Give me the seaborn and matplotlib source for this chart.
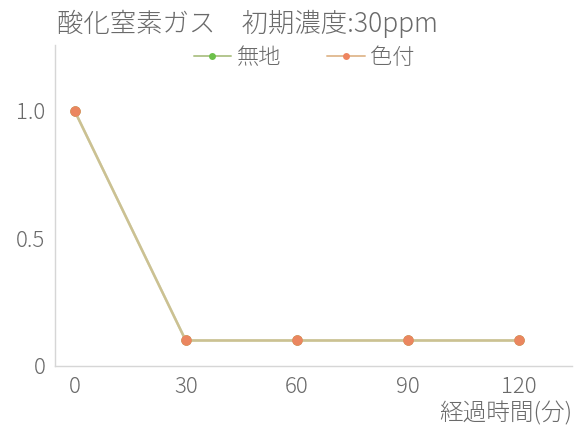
import matplotlib
matplotlib.use("Agg")
import matplotlib.pyplot as plt
import seaborn as sns
import pandas as pd
from matplotlib.lines import Line2D

# elapsed time (minutes) and relative concentration for each sample
minutes = [0, 30, 60, 90, 120]
plain = [1.0, 0.1, 0.1, 0.1, 0.1]      # 無地
colored = [1.0, 0.1, 0.1, 0.1, 0.1]    # 色付
series_names = ["無地", "色付"]
y_ticks = [0, 0.5, 1.0]
y_tick_labels = ["0", "0.5", "1.0"]

sns.set_theme(style="white")
plt.rcParams["font.family"] = ["Noto Sans CJK JP", "DejaVu Sans"]

df = pd.DataFrame({
    "time": minutes * 2,
    "value": plain + colored,
    "series": [series_names[0]] * len(minutes) + [series_names[1]] * len(minutes),
})

line_colors = {"無地": "#b3c68e", "色付": "#e2bd96"}
line_alpha = {"無地": 1.0, "色付": 0.55}
marker_colors = {"無地": "#6cc04a", "色付": "#ee8560"}
text_color = "#6a6a6a"

fig = plt.figure(figsize=(5.74, 4.34), dpi=100)
ax = fig.add_axes([55 / 574, 1 - 366 / 434, 517 / 574, 321 / 434])

for name in series_names:
    sub = df[df["series"] == name]
    sns.lineplot(data=sub, x="time", y="value", ax=ax, color=line_colors[name],
                 linewidth=1.8, marker="o", markersize=7.5,
                 markerfacecolor=marker_colors[name], markeredgewidth=0,
                 alpha=line_alpha[name], legend=False)
# markers of the top series drawn fully opaque
ax.plot(minutes, colored, linestyle="none", marker="o", markersize=7.5,
        markerfacecolor=marker_colors["色付"], markeredgewidth=0, alpha=0.95)

ax.set_xlim(-5.3, 134.3)
ax.set_ylim(0, 1.258)
ax.set_xticks(minutes)
ax.set_xticklabels([str(m) for m in minutes])
ax.set_yticks(y_ticks)
ax.set_yticklabels(y_tick_labels)
ax.set_xlabel("")
ax.set_ylabel("")
ax.tick_params(axis="both", length=0, labelsize=16, labelcolor=text_color, pad=7)
for lbl in ax.get_xticklabels() + ax.get_yticklabels():
    lbl.set_fontweight("light")

for side in ["top", "right"]:
    ax.spines[side].set_visible(False)
for side in ["left", "bottom"]:
    ax.spines[side].set_color("#d6d6d6")
    ax.spines[side].set_linewidth(1.0)

handles = [
    Line2D([0], [0], color=line_colors[n], lw=1.4, marker="o", markersize=5,
           markerfacecolor=marker_colors[n], markeredgewidth=0)
    for n in series_names
]
leg = ax.legend(handles, series_names, loc="center", bbox_to_anchor=(0.482, 0.96),
                ncol=2, frameon=False, fontsize=16, handlelength=1.7,
                handletextpad=0.25, columnspacing=2.05)
for t in leg.get_texts():
    t.set_color(text_color)
    t.set_fontweight("light")

fig.text(57 / 574, 1 - 24 / 434, "酸化窒素ガス　初期濃度:30ppm", fontsize=19,
         color=text_color, va="center", ha="left", fontweight="light")
fig.text(572 / 574, 1 - 414 / 434, "経過時間(分)", fontsize=17,
         color=text_color, va="center", ha="right", fontweight="light")

fig.savefig("out.png", dpi=100)
